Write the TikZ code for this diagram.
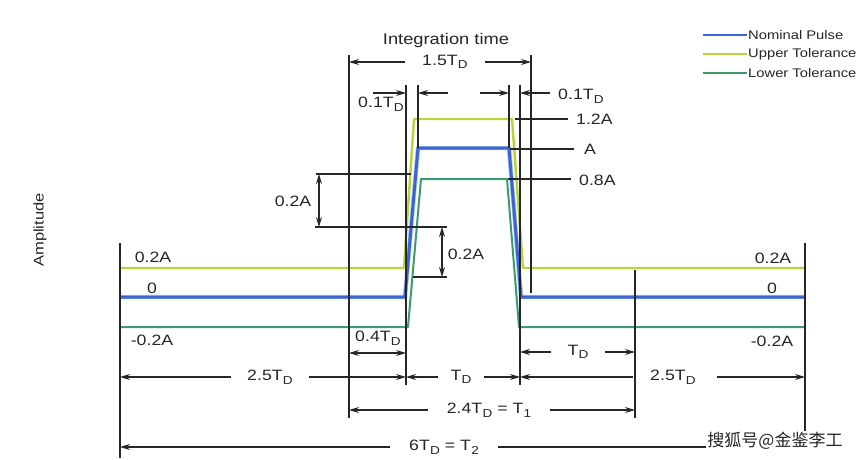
\documentclass[tikz,border=0pt]{standalone}
\usepackage{fontspec}
\setmainfont{Liberation Sans}[FakeStretch=1.18]
\newfontfamily\cjkfont{Noto Sans CJK SC}
\usetikzlibrary{arrows.meta}
\newcommand{\subD}[1]{\kern0.3pt\raisebox{-3.6pt}{\fontsize{11.5}{12}\selectfont #1}}
\newcommand{\Td}{T\subD{D}}
\definecolor{nomblue}{HTML}{3C64D2}
\definecolor{nomglow}{HTML}{A8C8F0}
\definecolor{upyel}{HTML}{B8D43A}
\definecolor{lowgrn}{HTML}{3E9A6C}
\definecolor{ink}{HTML}{262626}
\begin{document}
\begin{tikzpicture}[x=1pt,y=-1pt,
  ext/.style={draw=ink, line width=1.25pt},
  dim/.style={ext, -{Stealth[length=10pt,width=6pt]}},
  dimb/.style={ext, {Stealth[length=10pt,width=6pt]}-{Stealth[length=10pt,width=6pt]}},
  lab/.style={font=\fontsize{15}{18}\selectfont, text=ink, inner sep=1pt},
  leg/.style={font=\fontsize{12.5}{15}\selectfont, text=ink, inner sep=1pt, anchor=west},
  nom/.style={draw=nomblue, line width=3pt, line join=round},
  glow/.style={draw=nomglow, line width=4.4pt, line join=round},
  upp/.style={draw=upyel, line width=2.4pt, line join=round},
  low/.style={draw=lowgrn, line width=2pt, line join=round}]
\useasboundingbox (0,0) rectangle (865,460);
\fill[white] (0,0) rectangle (865,460);

% ---------- pulses ----------
\draw[upp] (120,268) -- (404,268) -- (414,119) -- (512,119) -- (523,268) -- (805,268);
\draw[low] (120,327) -- (408,327) -- (421,179) -- (507,179) -- (519,327) -- (805,327);
\draw[glow] (120,297) -- (405,297) -- (418,148) -- (509,148) -- (521,297) -- (805,297);
\draw[nom] (120,297) -- (405,297) -- (418,148) -- (509,148) -- (521,297) -- (805,297);

% ---------- extension lines ----------
\coordinate (xA) at (120,243);  \coordinate (xAb) at (120,458);
\coordinate (xB) at (349,55);   \coordinate (xBb) at (349,418);
\coordinate (xC) at (406,85);   \coordinate (xCb) at (406,385);
\coordinate (xD) at (418,85);   \coordinate (xDb) at (418,148);
\coordinate (xE) at (509,85);   \coordinate (xEb) at (509,148);
\coordinate (xF) at (520,85);   \coordinate (xFb) at (520,385);
\coordinate (xG) at (531,55);   \coordinate (xGb) at (531,293);
\coordinate (xH) at (635,270);  \coordinate (xHb) at (635,418);
\coordinate (xI) at (805,243);  \coordinate (xIb) at (805,450);
\foreach \t in {A,B,C,D,E,F,G,H,I} \draw[ext] (x\t) -- (x\t b);

% ---------- 1.5 TD ----------
\node[lab] (d15) at (445,62) {1.5\Td};
\draw[dim] ([xshift=-16pt]d15.west) -- (d15.west -| xB);
\draw[dim] ([xshift=16pt]d15.east) -- (d15.east -| xG);
\node[lab, font=\fontsize{15.5}{18}\selectfont] (integ) at (446,40) {Integration time};

% ---------- 0.1 TD left / right ----------
\coordinate (a1) at (373,93); \coordinate (a2) at (448,93);
\coordinate (a3) at (480,93); \coordinate (a4) at (550,93);
\draw[dim] (a1) -- (a1 -| xC);
\draw[dim] (a2) -- (a2 -| xD);
\draw[dim] (a3) -- (a3 -| xE);
\draw[dim] (a4) -- (a4 -| xF);
\node[lab] (p1l) at (381,104) {0.1\Td};
\node[lab] (p1r) at (581,96) {0.1\Td};

% ---------- level leaders ----------
\node[lab, anchor=west] (l12) at (575,119) {1.2A};
\node[lab, anchor=west] (l10) at (583,149) {A};
\node[lab, anchor=west] (l08) at (578,180) {0.8A};
\coordinate (c12) at (515,119); \coordinate (c10) at (510,149); \coordinate (c08) at (508,179);
\draw[ext] (c12) -- ([xshift=-7pt]l12.west |- c12);
\draw[ext] (c10) -- ([xshift=-9pt]l10.west |- c10);
\draw[ext] (c08) -- ([xshift=-7pt]l08.west |- c08);

% ---------- 0.2A dimensions ----------
\coordinate (h1a) at (316,174); \coordinate (h1b) at (411,174);
\coordinate (h2a) at (315,227); \coordinate (h2b) at (447,227);
\coordinate (h3a) at (413,277); \coordinate (h3b) at (447,277);
\draw[ext] (h1a) -- (h1b);
\draw[ext] (h2a) -- (h2b);
\draw[ext] (h3a) -- (h3b);
\coordinate (v1) at (319,0); \coordinate (v2) at (442,0);
\draw[dimb] (v1 |- h1a) -- (v1 |- h2a);
\draw[dimb] (v2 |- h2a) -- (v2 |- h3a);
\node[lab] (q1) at (293,201) {0.2A};
\node[lab] (q2) at (466,254) {0.2A};

% ---------- level labels ----------
\node[lab] (lv1) at (153,257) {0.2A};
\node[lab] (lv2) at (152,288) {0};
\node[lab] (lv3) at (152,340) {-0.2A};
\node[lab] (rv1) at (773,258) {0.2A};
\node[lab] (rv2) at (772,288) {0};
\node[lab] (rv3) at (772,341) {-0.2A};

% ---------- 0.4 TD ----------
\node[lab] (d04) at (378,338) {0.4\Td};
\coordinate (y04) at (0,353);
\draw[dimb] (xB |- y04) -- (xC |- y04);

% ---------- TD right ----------
\node[lab] (dtr) at (578,352) {\Td};
\draw[dim] ([xshift=-15pt]dtr.west) -- (dtr.west -| xF);
\draw[dim] ([xshift=15pt]dtr.east) -- (dtr.east -| xH);

% ---------- bottom row ----------
\node[lab] (d25l) at (270,377) {2.5\Td};
\draw[dim] ([xshift=-15pt]d25l.west) -- (d25l.west -| xA);
\draw[dim] ([xshift=15pt]d25l.east) -- (d25l.east -| xC);
\node[lab] (dtm) at (461,377) {\Td};
\draw[dim] ([xshift=-11pt]dtm.west) -- (dtm.west -| xC);
\draw[dim] ([xshift=11pt]dtm.east) -- (dtm.east -| xF);
\node[lab] (d25r) at (673,377) {2.5\Td};
\draw[dim] ([xshift=-16pt]d25r.west) -- (d25r.west -| xF);
\draw[dim] ([xshift=20pt]d25r.east) -- (d25r.east -| xI);

% ---------- T1 ----------
\node[lab] (dt1) at (489,410) {2.4\Td{} = T\subD{1}};
\draw[dim] ([xshift=-18pt]dt1.west) -- (dt1.west -| xB);
\draw[dim] ([xshift=18pt]dt1.east) -- (dt1.east -| xH);

% ---------- T2 ----------
\node[lab] (dt2) at (444,447) {6\Td{} = T\subD{2}};
\draw[dim] ([xshift=-18pt]dt2.west) -- (dt2.west -| xA);
\draw[dim] ([xshift=18pt]dt2.east) -- (dt2.east -| xI);

% ---------- axis label ----------
\node[lab, rotate=90, font=\fontsize{14}{16}\selectfont] (amp) at (40,230) {Amplitude};

% ---------- legend ----------
\coordinate (g1) at (703,35); \coordinate (g2) at (703,54); \coordinate (g3) at (703,73);
\node[leg] (t1) at (747,35) {Nominal Pulse};
\node[leg] (t2) at (747,54) {Upper Tolerance};
\node[leg] (t3) at (747,73) {Lower Tolerance};
\draw[nom, line width=2.8pt] (g1) -- (t1.west);
\draw[upp, line width=2.6pt] (g2) -- (t2.west);
\draw[low, line width=2.6pt] (g3) -- (t3.west);

% ---------- watermark ----------
\node[fill=white, inner sep=1pt, font=\cjkfont\fontsize{17}{19}\selectfont, text=ink] (wm) at (775,441) {搜狐号@金鉴李工};
\end{tikzpicture}
\end{document}
